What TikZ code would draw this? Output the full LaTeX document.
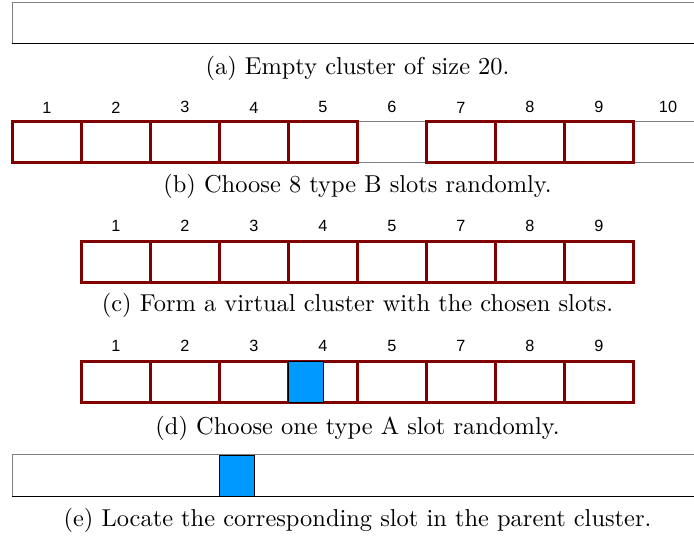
\documentclass[tikz,border=0pt]{standalone}
\usepackage{fontspec}
\newfontfamily\numfont{Liberation Sans}
\definecolor{slotred}{HTML}{800000}
\definecolor{slotblue}{HTML}{0099FF}

\begin{document}
\begin{tikzpicture}[x=0.4pt,y=-0.4pt,
                    bslot/.style={rectangle,draw=slotred,line width=1.2pt,minimum width=27.6pt,minimum height=16.4pt,inner sep=0pt},
                    free slot/.style={rectangle,minimum width=27.6pt,minimum height=16.4pt,inner sep=0pt,outer sep=0pt},
                    aslot/.style={rectangle,draw=black,line width=0.4pt,fill=slotblue,minimum width=13.8pt,minimum height=16.4pt,inner sep=0pt},
                    num/.style={font=\numfont\fontsize{6.5}{8}\selectfont},
                    caption/.style={font=\fontsize{9.77}{12}\selectfont}]
\clip (0,0) rectangle (694,537);

% (a) the whole cluster
\draw[gray] (720,3) -| (12,44);
\draw (12,44) -- (720,44);
\node[caption] (capa) at (357.5,68) {(a) Empty cluster of size 20.};

% (b) type B slots
\foreach \i in {1,...,10}
  \node[free slot,label={[num]above:\i}] (b\i) at ({12.5+69*(\i-0.5)},142.5) {};
\draw[gray] (b6.north west) -- (b6.north east) (b6.south west) -- (b6.south east);
\draw[gray] (b10.north west) -- (b10.north east) (b10.south west) -- (b10.south east);
\foreach \i in {1,...,5,7,8,9}
  \node[bslot] (bb\i) at (b\i) {};
\node[caption] (capb) at (357.5,186) {(b) Choose 8 type B slots randomly.};

% (c) virtual cluster
\foreach \n [count=\k] in {1,2,3,4,5,7,8,9}
  \node[bslot,label={[num]above:\n}] (c\k) at ({81.5+69*(\k-0.5)},262) {};
\node[caption] (capc) at (357.5,305) {(c) Form a virtual cluster with the chosen slots.};

% (d) pick a type A slot
\foreach \n [count=\k] in {1,2,3,4,5,7,8,9}
  \node[bslot,label={[num]above:\n}] (d\k) at ({81.5+69*(\k-0.5)},382) {};
\node[aslot] (dA) at (305.75,382) {};
\node[caption] (capd) at (357.5,428) {(d) Choose one type A slot randomly.};

% (e) back in the parent cluster
\draw[gray] (720,455) -| (12,497);
\draw (12,497) -- (720,497);
\node[aslot] (eA) at (236.75,476) {};
\node[caption] (cape) at (357.5,520) {(e) Locate the corresponding slot in the parent cluster.};
\end{tikzpicture}
\end{document}
